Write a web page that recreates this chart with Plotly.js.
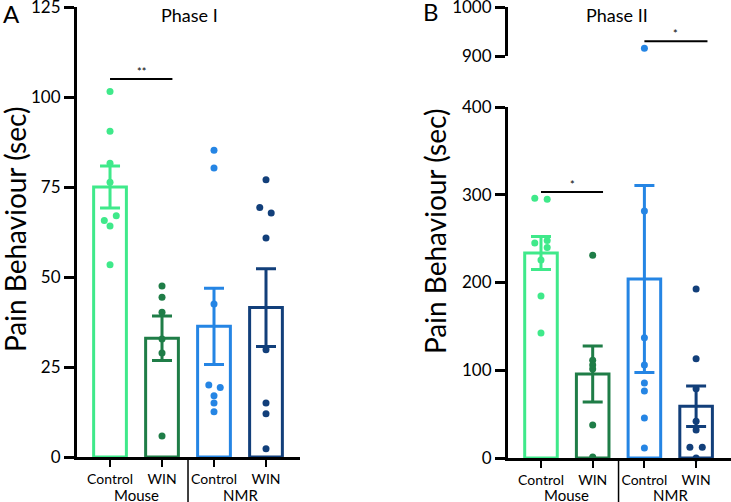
<!DOCTYPE html>
<html>
<head>
<meta charset="utf-8">
<script src="https://cdn.plot.ly/plotly-3.0.1.min.js"></script>
<style>
  html, body { margin: 0; padding: 0; background: #fff; }
  #myDiv { width: 731px; height: 502px; }
</style>
</head>
<body>
<div id="myDiv"></div>
<script>
// groups, left to right
var groupLabels = ['Control', 'WIN', 'Control', 'WIN'];
var speciesLabels = ['Mouse', 'NMR'];
var groupPos = [0, 1, 2, 3];
var colors = ['#3fe98a', '#1f7d47', '#2585e4', '#123f7a'];

// Phase I (sec)
var phase1Mean = [75, 33, 36.3, 41.5];
var phase1Sem = [5.8, 6.2, 10.6, 10.8];
var phase1Points = [
  [101.5, 90.5, 81.6, 76.3, 67, 65.7, 64.2, 53.4],
  [47.5, 44.4, 40.2, 32.8, 28.9, 5.8],
  [85.2, 80.3, 42.5, 20, 19.3, 17, 15, 12.6],
  [77, 69.3, 67.8, 60.8, 29.8, 15, 12, 2.3]
];
var phase1Jitter = [
  [0, 0, 0, 0, 0.12, -0.11, 0, 0],
  [0, 0, 0, 0, 0, 0],
  [0, 0, 0, -0.1, 0.12, 0, 0, 0],
  [0, -0.12, 0.1, 0, 0, 0, 0, 0]
];

// Phase II (sec)
var phase2Mean = [233.6, 95.7, 204, 59];
var phase2Sem = [18.8, 32, 106.5, 23];
var phase2Points = [
  [296, 295, 248, 245, 240, 225.6, 184.6, 142.5],
  [231, 111.5, 106, 101.5, 37.6, 1],
  [916, 281.5, 137, 106, 85.5, 76.4, 45.6, 11.4],
  [192.6, 113, 79, 42, 32, 12.3, 12.3, 0]
];
var phase2Jitter = [
  [-0.12, 0.12, 0.12, -0.12, 0.12, 0, 0, 0],
  [0, 0, 0, 0, 0, 0],
  [0, 0, 0, 0, 0, 0, 0, 0],
  [0, 0, 0, 0, 0, -0.12, 0.12, 0]
];
var breakLow = 400;

var data = [];

function addPanel(means, sems, points, jitter, xa, ya, yaUpper) {
  for (var i = 0; i < groupPos.length; i++) {
    data.push({
      type: 'bar',
      x: [groupPos[i]],
      y: [means[i]],
      width: 0.63,
      xaxis: xa, yaxis: ya,
      marker: { color: 'rgba(255,255,255,0)', line: { color: colors[i], width: 3 } },
      error_y: { type: 'data', array: [sems[i]], color: colors[i], thickness: 3, width: 10 },
      hoverinfo: 'y'
    });
    var lx = [], ly = [], ux = [], uy = [];
    for (var j = 0; j < points[i].length; j++) {
      var px = groupPos[i] + jitter[i][j];
      if (yaUpper && points[i][j] > breakLow) { ux.push(px); uy.push(points[i][j]); }
      else { lx.push(px); ly.push(points[i][j]); }
    }
    data.push({
      type: 'scatter', mode: 'markers', x: lx, y: ly,
      xaxis: xa, yaxis: ya, cliponaxis: false,
      marker: { color: colors[i], size: 7 }
    });
    if (ux.length) {
      data.push({
        type: 'scatter', mode: 'markers', x: ux, y: uy,
        xaxis: xa, yaxis: yaUpper, cliponaxis: false,
        marker: { color: colors[i], size: 7 }
      });
    }
  }
}

addPanel(phase1Mean, phase1Sem, phase1Points, phase1Jitter, 'x', 'y', null);
addPanel(phase2Mean, phase2Sem, phase2Points, phase2Jitter, 'x2', 'y2', 'y3');

var W = 731, H = 502;
function py(p) { return (H - p) / H; }

var axBase = {
  showline: true, linecolor: '#000', linewidth: 3,
  showgrid: false, zeroline: false,
  ticks: 'outside', tickcolor: '#000',
  ticklabeloverflow: 'allow',
  tickfont: { family: 'Lato, sans-serif', size: 17, color: '#000' },
  fixedrange: true
};
function ax(extra) { return Object.assign({}, axBase, extra); }

var xTicks = { tickvals: groupPos, ticktext: groupLabels, ticklen: 7, tickwidth: 2,
  tickfont: { family: 'Lato, sans-serif', size: 14, color: '#000' } };

var txt = function (s, x, y, xref, yref, size, extra) {
  return Object.assign({ text: s, x: x, y: y, xref: xref, yref: yref, showarrow: false,
    xanchor: 'center', yanchor: 'middle',
    font: { family: 'Lato, sans-serif', size: size, color: '#000' } }, extra || {});
};

var layout = {
  width: W, height: H,
  margin: { l: 0, r: 0, t: 0, b: 0 },
  paper_bgcolor: '#fff', plot_bgcolor: 'rgba(0,0,0,0)',
  showlegend: false,
  bargap: 0,
  xaxis: ax(Object.assign({ domain: [77 / W, 300 / W], range: [-0.635, 3.654], anchor: 'y' }, xTicks)),
  yaxis: ax({ domain: [py(457), py(7)], range: [0, 125], dtick: 25, ticklen: 10, tickwidth: 3, anchor: 'x' }),
  xaxis2: ax(Object.assign({ domain: [508 / W, 1], range: [-0.638, 3.675], anchor: 'y2' }, xTicks)),
  yaxis2: ax({ domain: [py(458), py(107)], range: [0, 400], dtick: 100, ticklen: 10, tickwidth: 3, anchor: 'x2' }),
  yaxis3: ax({ domain: [py(56), py(7)], range: [900, 1000], dtick: 100, ticklen: 10, tickwidth: 3, anchor: 'x2' }),
  shapes: [
    { type: 'line', xref: 'x', yref: 'paper', x0: 1.5, x1: 1.5, y0: 0, y1: py(457), line: { color: '#000', width: 1.5 } },
    { type: 'line', xref: 'x2', yref: 'paper', x0: 1.5, x1: 1.5, y0: 0, y1: py(458), line: { color: '#000', width: 1.5 } },
    { type: 'line', xref: 'x', yref: 'y', x0: 0, x1: 1.2, y0: 105, y1: 105, line: { color: '#000', width: 2 } },
    { type: 'line', xref: 'x2', yref: 'y2', x0: 0, x1: 1.2, y0: 303, y1: 303, line: { color: '#000', width: 2 } },
    { type: 'line', xref: 'x2', yref: 'y3', x0: 2, x1: 3.22, y0: 930, y1: 930, line: { color: '#000', width: 2 } }
  ],
  annotations: [
    txt('**', 0.6, 105, 'x', 'y', 11, { yanchor: 'bottom', yshift: -1 }),
    txt('*', 0.6, 303, 'x2', 'y2', 11, { yanchor: 'bottom', yshift: -1 }),
    txt('*', 2.6, 930, 'x2', 'y3', 11, { yanchor: 'bottom', yshift: -1 }),
    txt(speciesLabels[0], 0.5, py(495), 'x', 'paper', 15),
    txt(speciesLabels[1], 2.5, py(495), 'x', 'paper', 15),
    txt(speciesLabels[0], 0.5, py(495), 'x2', 'paper', 15),
    txt(speciesLabels[1], 2.5, py(495), 'x2', 'paper', 15),
    txt('Phase I', 189 / W, py(15), 'paper', 'paper', 18),
    txt('Phase II', 617 / W, py(15), 'paper', 'paper', 18),
    txt('A', 11 / W, py(14), 'paper', 'paper', 24),
    txt('B', 431 / W, py(12), 'paper', 'paper', 24),
    txt('Pain Behaviour (sec)', 15 / W, py(230), 'paper', 'paper', 28, { textangle: -90 }),
    txt('Pain Behaviour (sec)', 435 / W, py(232), 'paper', 'paper', 28, { textangle: -90 })
  ]
};

Plotly.newPlot('myDiv', data, layout, { displayModeBar: false, staticPlot: true });
</script>
</body>
</html>
